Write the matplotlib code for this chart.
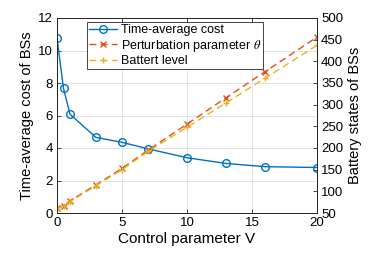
import matplotlib
matplotlib.use("Agg")
import matplotlib.pyplot as plt

plt.rcParams['font.family'] = ['Liberation Sans', 'DejaVu Sans']
plt.rcParams['mathtext.fontset'] = 'stix'

V = [0, 0.5, 1, 3, 5, 7, 10, 13, 16, 20]
cost = [10.75, 7.67, 6.08, 4.65, 4.35, 3.95, 3.4, 3.05, 2.85, 2.8]
theta = [61, 67, 78, 115, 153, 195, 255, 316, 376, 456]
battery = [60, 66, 76, 113, 150, 192, 248, 304, 361, 437]

c_blue = '#0072BD'
c_orange = '#D95319'
c_yellow = '#EDB120'
axc = '#262626'

fig = plt.figure(figsize=(3.74, 2.61), dpi=100)
ax = fig.add_axes([57/374, 48/261, 260/374, 195/261])
ax2 = ax.twinx()

l1, = ax.plot(V, cost, '-o', color=c_blue, lw=1.0, ms=5.5, mfc='none', mew=1.0,
              label='Time-average cost')
l2, = ax2.plot(V, theta, '--x', color=c_orange, lw=1.0, ms=4, mew=1.0,
               dashes=(5, 3), label=r'Perturbation parameter $\theta$')
l3, = ax2.plot(V, battery, '--+', color=c_yellow, lw=1.0, ms=5, mew=1.0,
               dashes=(5, 3), label='Battert level')

ax.set_xlim(0, 20)
ax.set_ylim(0, 12)
ax2.set_ylim(50, 500)
ax.set_xticks([0, 5, 10, 15, 20])
ax.set_yticks([0, 2, 4, 6, 8, 10, 12])
ax2.set_yticks(range(50, 501, 50))

ax.grid(True, color='#dcdcdc', lw=0.6)
ax.set_axisbelow(True)

for a in (ax, ax2):
    for s in a.spines.values():
        s.set_color(axc)
        s.set_linewidth(0.7)
    a.tick_params(direction='in', length=3, width=0.6, colors=axc, labelsize=9.5,
                  labelcolor='black', pad=3)
ax.tick_params(top=True)

ax.set_xlabel('Control parameter V', fontsize=11, labelpad=2)
ax.set_ylabel('Time-average cost of BSs', fontsize=10.5, labelpad=3)
ax2.set_ylabel('Battery states of BSs', fontsize=10.5, labelpad=3)

leg = ax2.legend(handles=[l1, l2, l3], loc='upper left',
                 bbox_to_anchor=(0.115, 0.98), fontsize=9, frameon=True,
                 fancybox=False, edgecolor=axc, framealpha=1,
                 borderpad=0.2, labelspacing=0.1, handlelength=2.2,
                 handletextpad=0.3, borderaxespad=0)
leg.get_frame().set_linewidth(0.6)

fig.savefig('out.png', dpi=100)
